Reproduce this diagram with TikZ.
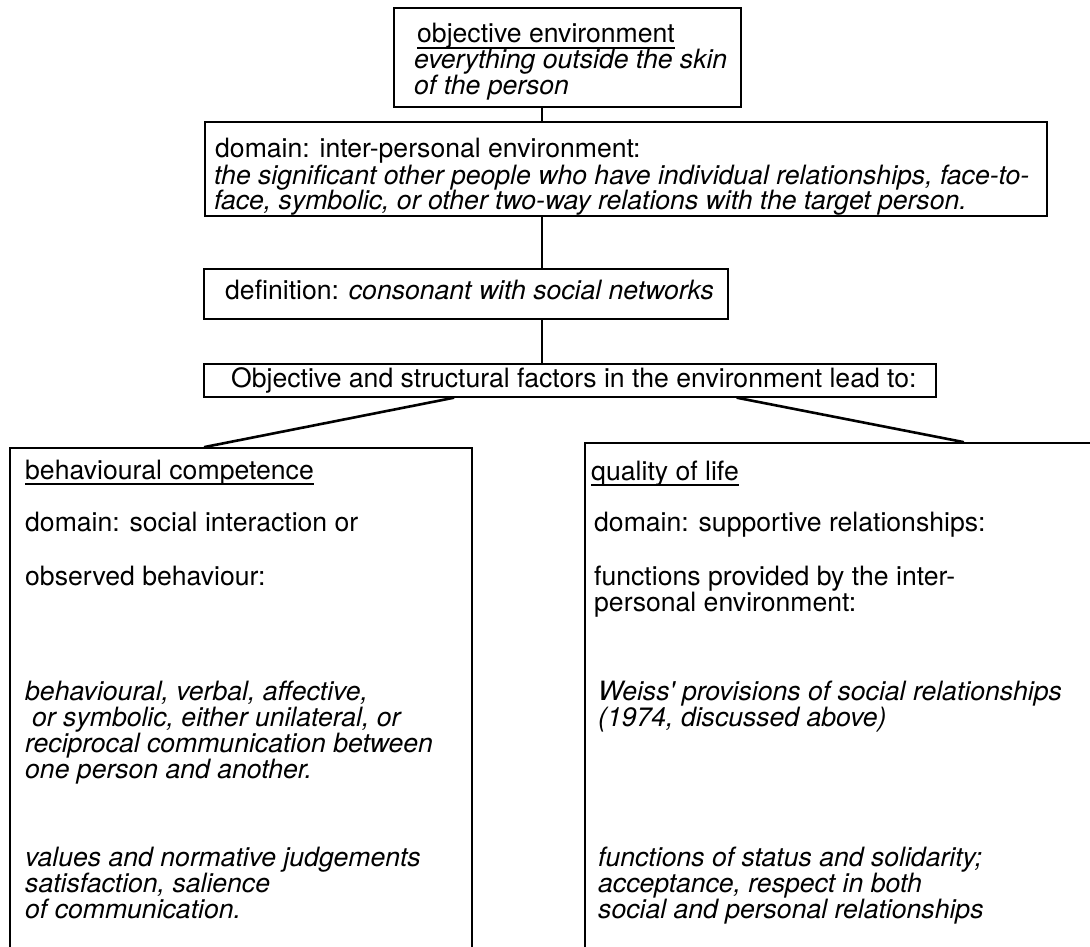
\documentclass[tikz,border=0pt]{standalone}
\usepackage{fontspec}
\setmainfont{TeX Gyre Heros}
\usetikzlibrary{calc}
\begin{document}
\begin{tikzpicture}[x=1pt,y=-1pt,
  frame/.style={draw, line width=1.8pt, inner sep=0pt, anchor=north west},
  txt/.style={inner sep=0pt, anchor=base west, font=\fontsize{26.6}{27}\selectfont},
  itxt/.style={txt, font=\fontsize{26.6}{27}\selectfont\itshape},
  link/.style={line width=1.8pt},
  slant/.style={line width=2.6pt, line cap=round},
  uline/.style={line width=1.5pt}]
\useasboundingbox (0,0) rectangle (1090,947);

% spine of the vertical connectors
\coordinate (spine) at (542,0);

% ---- top box: objective environment
\node[frame, minimum width=347pt, minimum height=99pt] (b1) at (393,7) {};
\node[txt]  (b1t1) at (417,43) {objective environment};
\node[itxt] (b1t2) at (414,69) {everything outside the skin};
\node[itxt] (b1t3) at (414,95) {of the person};
\draw[uline] ($(b1t1.base west)+(0,5)$) -- ($(b1t1.base east)+(0,5)$);

% ---- domain box
\node[frame, minimum width=842pt, minimum height=94pt] (b2) at (204,121) {};
\node[txt]  (b2t1) at (215,158) {domain: inter-personal environment:};
\node[itxt] (b2t2) at (214,184) {the significant other people who have individual relationships, face-to-};
\node[itxt] (b2t3) at (214,209) {face, symbolic, or other two-way relations with the target person.};

% ---- definition box
\node[frame, minimum width=524pt, minimum height=50pt] (b3) at (203,268) {};
\node[txt] (b3t) at (225,299) {definition: \textit{consonant with social networks}};

% ---- factors box
\node[frame, minimum width=732pt, minimum height=33pt] (b4) at (203,363) {};
\node[txt] (b4t) at (231,387) {Objective and structural factors in the environment lead to:};

% ---- behavioural competence box
\node[frame, minimum width=462pt, minimum height=530pt] (bl) at (9,447) {};
\node[txt] (blh) at (25,479) {behavioural competence\ };
\draw[uline] ($(blh.base west)+(0,5)$) -- ($(blh.base east)+(0,5)$);
\node[txt] (bl1) at (25,531) {domain: social interaction or};
\node[txt] (bl2) at (25,585) {observed behaviour:};
\node[itxt] (bl3) at (25,700) {behavioural, verbal, affective,};
\node[itxt] (bl4) at (32,726) {or symbolic, either unilateral, or};
\node[itxt] (bl5) at (25,752) {reciprocal communication between};
\node[itxt] (bl6) at (25,778) {one person and another.};
\node[itxt] (bl7) at (25,866) {values and normative judgements};
\node[itxt] (bl8) at (25,892) {satisfaction, salience};
\node[itxt] (bl9) at (25,918) {of communication.};

% ---- quality of life box
\node[frame, minimum width=530pt, minimum height=540pt] (br) at (584,442) {};
\node[txt] (brh) at (591,480) {quality of life\ };
\draw[uline] ($(brh.base west)+(0,5)$) -- ($(brh.base east)+(0,5)$);
\node[txt] (br1) at (594,531) {domain: supportive relationships:};
\node[txt] (br2) at (594,585) {functions provided by the inter-};
\node[txt] (br3) at (594,611) {personal environment:};
\node[itxt] (br4) at (598,700) {Weiss\textquotesingle\ provisions of social relationships};
\node[itxt] (br5) at (598,726) {(1974, discussed above)};
\node[itxt] (br6) at (598,866) {functions of status and solidarity;};
\node[itxt] (br7) at (598,892) {acceptance, respect in both};
\node[itxt] (br8) at (598,918) {social and personal relationships};

% ---- connectors
\draw[link] (b1.south -| spine) -- (b2.north -| spine);
\draw[link] (b2.south -| spine) -- (b3.north -| spine);
\draw[link] (b3.south -| spine) -- (b4.north -| spine);
\draw[slant] ($(b4.south west)!0.3415!(b4.south east)$) -- ($(bl.north west)!0.422!(bl.north east)$);
\draw[slant] ($(b4.south west)!0.728!(b4.south east)$) -- ($(br.north west)!0.713!(br.north east)$);
\end{tikzpicture}
\end{document}
